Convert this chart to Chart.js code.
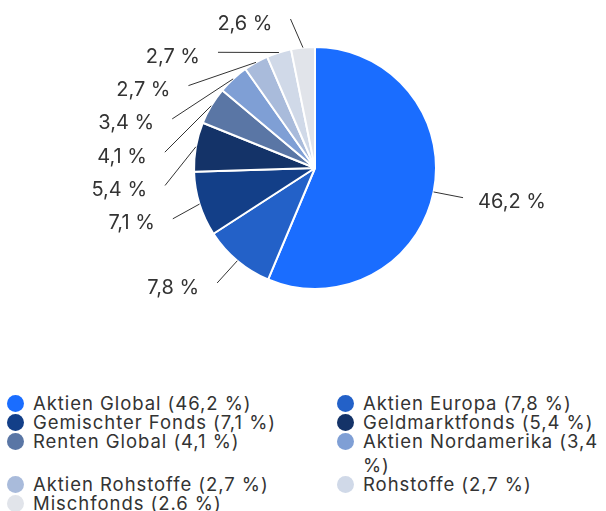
<!DOCTYPE html>
<html>
<head>
<meta charset="utf-8">
<script src="https://cdn.jsdelivr.net/npm/chart.js@4"></script>
<style>
  html, body { margin: 0; padding: 0; background: #ffffff; }
  body { width: 606px; height: 511px; overflow: hidden; font-family: Inter, "Noto Sans", sans-serif; color: #333333; }
  #chartBox { width: 606px; height: 390px; position: relative; }
  #legend { display: grid; grid-template-columns: 330px 269px; padding-left: 7px; padding-top: 1px; }
  .item { display: flex; align-items: flex-start; font-size: 18.5px; line-height: 24px; letter-spacing: 0.95px; margin-bottom: -5px; }
  .dot { flex: 0 0 17px; width: 17px; height: 17px; border-radius: 50%; margin-top: 3.5px; margin-right: 9px; }
  .txt { flex: 1 1 auto; }
</style>
</head>
<body>
<div id="chartBox"><canvas id="c" width="606" height="390"></canvas></div>
<div id="legend"></div>
<script>
// ---- data ----
const categories = [
  "Aktien Global", "Aktien Europa", "Gemischter Fonds", "Geldmarktfonds",
  "Renten Global", "Aktien Nordamerika", "Aktien Rohstoffe", "Rohstoffe", "Mischfonds"
];
const values = [46.2, 7.8, 7.1, 5.4, 4.1, 3.4, 2.7, 2.7, 2.6];
const sliceLabels = ["46,2 %", "7,8 %", "7,1 %", "5,4 %", "4,1 %", "3,4 %", "2,7 %", "2,7 %", "2,6 %"];
const legendValueTexts = ["46,2 %", "7,8 %", "7,1 %", "5,4 %", "4,1 %", "3,4 %", "2,7 %", "2,7 %", "2.6 %"];
const colors = ["#1a6dff", "#2361c8", "#133f88", "#143368", "#5a76a5", "#7f9fd5", "#a9bbdb", "#d0d9e8", "#e1e4ea"];

// ---- outside labels with connectors ----
const DIST_Y = 29, DIST_X = 30, GAP = 33.3, TOP_PAD = 2;
const outLabels = {
  id: 'outLabels',
  afterDatasetsDraw(chart) {
    const ctx = chart.ctx;
    const meta = chart.getDatasetMeta(0);
    const items = meta.data.map((arc, i) => {
      const p = arc.getProps(['x', 'y', 'startAngle', 'endAngle', 'outerRadius'], true);
      const mid = (p.startAngle + p.endAngle) / 2;
      const c = Math.cos(mid), s = Math.sin(mid);
      return { i, cx: p.x, cy: p.y, r: p.outerRadius,
        sx: p.x + p.outerRadius * c, sy: p.y + p.outerRadius * s,
        right: c >= 0, y: p.y + (p.outerRadius + DIST_Y) * s };
    });
    [true, false].forEach(side => {
      const list = items.filter(it => it.right === side).sort((a, b) => a.y - b.y);
      list.forEach((it, k) => {
        const minY = k === 0 ? it.cy - it.r - DIST_X + TOP_PAD : list[k - 1].y + GAP;
        if (it.y < minY) it.y = minY;
      });
    });
    ctx.save();
    ctx.font = '20px Inter, "Noto Sans", sans-serif';
    ctx.fillStyle = '#333333';
    ctx.strokeStyle = '#333333';
    ctx.lineWidth = 1;
    ctx.textBaseline = 'middle';
    items.forEach(it => {
      const R = it.r + DIST_X;
      const dy = it.y - it.cy;
      const dx = Math.sqrt(Math.max(R * R - dy * dy, 0));
      const ex = it.right ? it.cx + dx : it.cx - dx;
      ctx.beginPath();
      ctx.moveTo(it.sx, it.sy);
      ctx.lineTo(ex, it.y);
      ctx.stroke();
      ctx.textAlign = it.right ? 'left' : 'right';
      ctx.fillText(sliceLabels[it.i], it.right ? ex + 15 : ex - 18, it.y + 4.5);
    });
    ctx.restore();
  }
};

new Chart(document.getElementById('c'), {
  type: 'pie',
  data: {
    labels: categories,
    datasets: [{
      data: values,
      backgroundColor: colors,
      borderColor: '#ffffff',
      borderWidth: 2,
      hoverBorderWidth: 2,
      hoverOffset: 0
    }]
  },
  options: {
    responsive: false,
    animation: false,
    layout: { padding: { top: 46, bottom: 100, left: 193, right: 169 } },
    plugins: { legend: { display: false }, tooltip: { enabled: false } },
    events: []
  },
  plugins: [outLabels]
});

// ---- HTML legend ----
const lg = document.getElementById('legend');
categories.forEach((cat, i) => {
  const d = document.createElement('div');
  d.className = 'item';
  const dot = document.createElement('span');
  dot.className = 'dot';
  dot.style.background = colors[i];
  const t = document.createElement('span');
  t.className = 'txt';
  t.textContent = cat + ' (' + legendValueTexts[i] + ')';
  d.appendChild(dot); d.appendChild(t);
  lg.appendChild(d);
});
</script>
</body>
</html>
